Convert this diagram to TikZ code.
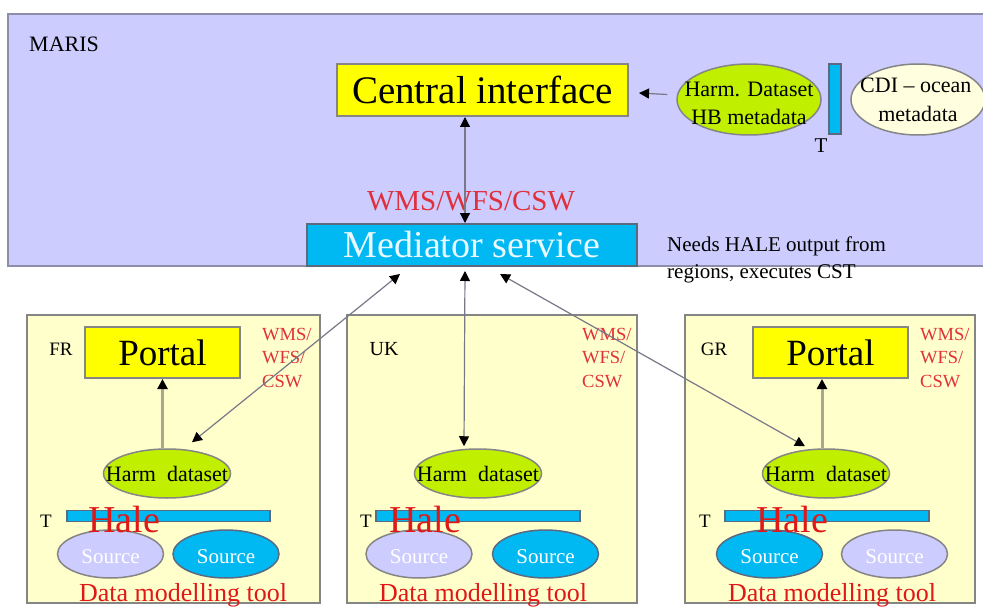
\documentclass[tikz,border=0pt]{standalone}
\usepackage{fontspec}
\setmainfont{Liberation Serif}
\usetikzlibrary{arrows.meta,shapes.geometric,calc}
\definecolor{marisbg}{HTML}{CCCCFF}
\definecolor{marisline}{HTML}{8E8EA8}
\definecolor{ciyellow}{HTML}{FFFF00}
\definecolor{boxgray}{HTML}{858585}
\definecolor{medcyan}{HTML}{00B9F2}
\definecolor{medline}{HTML}{5A6A80}
\definecolor{harmgreen}{HTML}{C0F000}
\definecolor{regioncream}{HTML}{FFFFCC}
\definecolor{cdicream}{HTML}{FFFFE0}
\definecolor{srclav}{HTML}{CCCCFF}
\definecolor{wmsred}{HTML}{E0303C}
\definecolor{halered}{HTML}{E01818}
\definecolor{conngray}{HTML}{787888}
\definecolor{tanline}{HTML}{A8A890}
\definecolor{medtext}{HTML}{EAF8FF}
\begin{document}
\begin{tikzpicture}[x=1pt,y=-1pt,
  >={Triangle[length=10pt,width=10pt,black]},
  fs/.style={font=\fontsize{#1}{#1}\selectfont},
  lbl/.style={inner sep=0pt, align=center},
  rectbox/.style={draw=boxgray, line width=2pt, inner sep=0pt},
  region/.style={draw=boxgray, fill=regioncream, line width=2pt},
  oval/.style={ellipse, draw=boxgray, line width=1.5pt, inner sep=0pt},
  harmoval/.style={oval, fill=harmgreen, minimum width=127pt, minimum height=49pt},
  srcoval/.style={oval, minimum width=106pt, minimum height=48pt},
  bar/.style={draw=medline, fill=medcyan, line width=1.2pt, inner sep=0pt},
  conn/.style={draw=conngray, line width=1.2pt},
  tan/.style={draw=tanline, line width=3pt},
  wms/.style={inner sep=0pt, font=\fontsize{18.5}{23.5}\selectfont, text=wmsred, align=left, anchor=north west},
  hale/.style={inner sep=0pt, fs=38, text=halered, anchor=base west},
  dmt/.style={inner sep=0pt, fs=26, text=halered, anchor=base},
  srctext/.style={inner sep=0pt, fs=21, text=white, anchor=base},
  harmtext/.style={inner sep=0pt, fs=22, anchor=base},
  tlbl/.style={inner sep=0pt, fs=19, anchor=base},
]
\useasboundingbox (0,0) rectangle (983,607);
\clip (0,0) rectangle (983,607);
\fill[white] (0,0) rectangle (983,607);

% ---------- MARIS ----------
\draw[fill=marisbg, draw=marisline, line width=2.5pt] (8,14) rectangle (995,266);
\node[inner sep=0pt, fs=22, anchor=base west] (maris) at (29,52) {MARIS};

\node[rectbox, fill=ciyellow, minimum width=291pt, minimum height=52pt, fs=39] (ci) at (482.5,90) {Central interface};

\node[oval, fill=harmgreen, minimum width=144pt, minimum height=71pt] (hb) at (749,99.5) {};
\node[lbl, font=\fontsize{22}{28}\selectfont] (hbt) at (749,103) {Harm. Dataset\\HB metadata};

\node[bar, minimum width=12pt, minimum height=70pt] (tbar) at (835,99) {};
\node[tlbl, fs=21] (tt) at (821,153) {T};

\node[oval, fill=cdicream, minimum width=134pt, minimum height=71pt] (cdi) at (918,99.5) {};
\node[lbl, font=\fontsize{22}{28}\selectfont, anchor=north west] (cdit) at (860,78) {CDI -- ocean};
\node[lbl, font=\fontsize{22}{28}\selectfont] (cdit2) at (918,114) {metadata};

\node[inner sep=0pt, text=wmsred, fs=29, anchor=base] (wmsc) at (471,210) {WMS/WFS/CSW};

\node[draw=medline, fill=medcyan, line width=2pt, inner sep=0pt, minimum width=330pt, minimum height=42pt, fs=38, text=medtext] (med) at (472,245) {Mediator service};

\node[inner sep=0pt, align=left, anchor=north west, font=\fontsize{21}{27}\selectfont] (needs) at (667,237) {Needs HALE output from\\regions, executes CST};

% ---------- Regions ----------
\draw[region] (27,315) rectangle (320,603);
\draw[region] (347,315) rectangle (637,603);
\draw[region] (685,315) rectangle (975,603);

% FR
\node[tlbl] (frl) at (61,355) {FR};
\node[rectbox, fill=ciyellow, minimum width=155pt, minimum height=51pt, fs=37] (p1) at (162.5,352.5) {Portal};
\node[wms] (w1) at (262,328) {WMS/\\WFS/\\CSW};
\node[harmoval] (h1) at (167,473.5) {};
\node[harmtext] (h1t) at (167,481) {Harm\ \ dataset};
\node[bar, minimum width=203pt, minimum height=11pt] (b1) at (168.5,516) {};
\node[tlbl] (t1) at (46,527) {T};
\node[srcoval, fill=srclav] (s1a) at (110.5,554) {};
\node[srcoval, fill=medcyan, draw=medline] (s1b) at (226,554) {};
\node[srctext] (s1at) at (110.5,563) {Source};
\node[srctext] (s1bt) at (226,563) {Source};
\node[hale] (hale1) at (88,532) {Hale};
\node[dmt] (d1) at (183,601) {Data modelling tool};

% UK
\node[tlbl, fs=20] (ukl) at (384,355) {UK};
\node[wms] (w2) at (582,328) {WMS/\\WFS/\\CSW};
\node[harmoval] (h2) at (478,473.5) {};
\node[harmtext] (h2t) at (478,481) {Harm\ \ dataset};
\node[bar, minimum width=204pt, minimum height=11pt] (b2) at (478,516) {};
\node[tlbl] (t2) at (366,527) {T};
\node[srcoval, fill=srclav] (s2a) at (419,554) {};
\node[srcoval, fill=medcyan, draw=medline] (s2b) at (545.5,554) {};
\node[srctext] (s2at) at (419,563) {Source};
\node[srctext] (s2bt) at (545.5,563) {Source};
\node[hale] (hale2) at (389,532) {Hale};
\node[dmt] (d2) at (483,601) {Data modelling tool};

% GR
\node[tlbl] (grl) at (714,355) {GR};
\node[rectbox, fill=ciyellow, minimum width=155pt, minimum height=51pt, fs=37] (p3) at (830.5,352.5) {Portal};
\node[wms] (w3) at (920,328) {WMS/\\WFS/\\CSW};
\node[harmoval] (h3) at (826,473.5) {};
\node[harmtext] (h3t) at (826,481) {Harm\ \ dataset};
\node[bar, minimum width=204pt, minimum height=11pt] (b3) at (827,516) {};
\node[tlbl] (t3) at (705,527) {T};
\node[srcoval, fill=medcyan, draw=medline] (s3a) at (769.5,554) {};
\node[srcoval, fill=srclav] (s3b) at (894.5,554) {};
\node[srctext] (s3at) at (769.5,563) {Source};
\node[srctext] (s3bt) at (894.5,563) {Source};
\node[hale] (hale3) at (756,532) {Hale};
\node[dmt] (d3) at (832,601) {Data modelling tool};

% ---------- Connectors ----------
\draw[conn, <->] ($(ci.south)+(-17.5,0)$) -- ($(med.north)+(-7,0)$);
\draw[conn, ->] ($(hb.west)+(-9,-5)$) -- ($(ci.east)+(10,3)$);
\draw[conn, <->] ($(med.south)+(-72,7)$) -- ($(h1.north)+(25,-6)$);
\draw[conn, <->] ($(med.south)+(-7,4)$) -- ($(h2.north)+(-14,-2)$);
\draw[conn, <->] ($(med.south)+(28,7)$) -- ($(h3.north)+(-21,-2)$);
\draw[tan, ->] (p1.south |- h1.north) -- (p1.south);
\draw[tan, ->] ($(h3.north)+(-4,0)$) -- ($(p3.south)+(-8.5,0)$);
\end{tikzpicture}
\end{document}
